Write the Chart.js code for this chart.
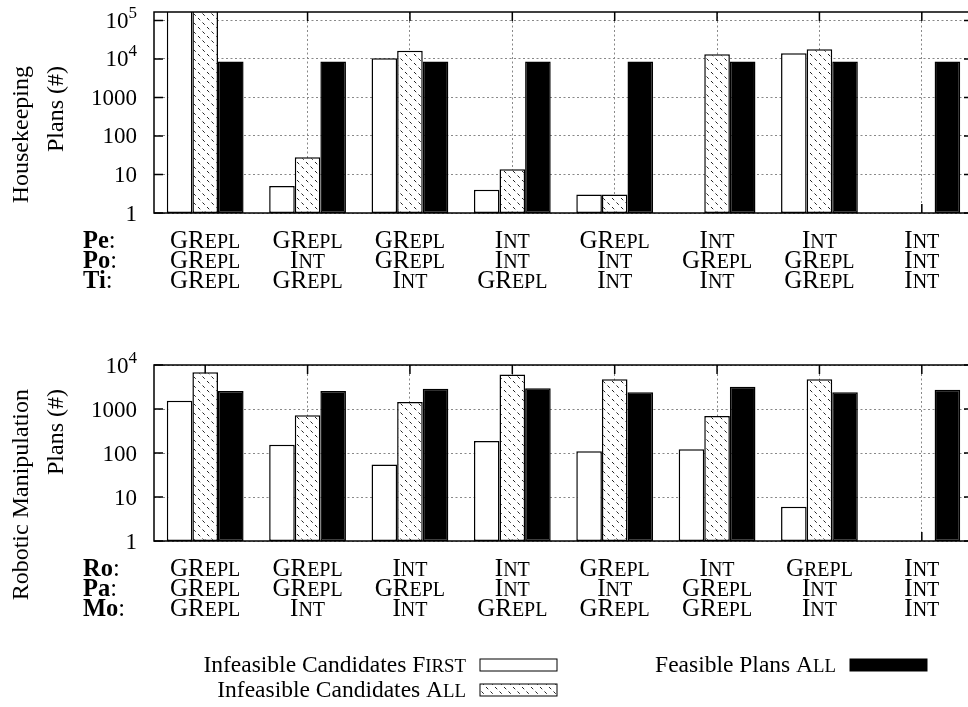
<!DOCTYPE html>
<html>
<head>
<meta charset="utf-8">
<script src="https://cdn.jsdelivr.net/npm/chart.js@4"></script>
<style>
  html, body { margin: 0; padding: 0; background: #fff; overflow: hidden; width: 968px; height: 707px; }
  canvas { position: absolute; left: 0; }
  #house { top: 0; }
  #robot { top: 300px; }
</style>
</head>
<body>
<canvas id="house" width="990" height="300"></canvas>
<canvas id="robot" width="990" height="407"></canvas>
<script>
// groups (one per configuration)
const groupIds = ['1', '2', '3', '4', '5', '6', '7', '8'];

// Housekeeping configuration rows
const housePe = ['GRepl', 'GRepl', 'GRepl', 'Int', 'GRepl', 'Int', 'Int', 'Int'];
const housePo = ['GRepl', 'Int', 'GRepl', 'Int', 'Int', 'GRepl', 'GRepl', 'Int'];
const houseTi = ['GRepl', 'GRepl', 'Int', 'GRepl', 'Int', 'Int', 'GRepl', 'Int'];

// Robotic manipulation configuration rows
const robotRo = ['GRepl', 'GRepl', 'Int', 'Int', 'GRepl', 'Int', 'Grepl', 'Int'];
const robotPa = ['GRepl', 'GRepl', 'GRepl', 'Int', 'Int', 'GRepl', 'Int', 'Int'];
const robotMo = ['GRepl', 'Int', 'Int', 'GRepl', 'GRepl', 'GRepl', 'Int', 'Int'];

// series values (null = no bar)
const houseFirst = [200000, 5, 10400, 4, 3, null, 14000, null];
const houseAll = [200000, 28, 16400, 13.6, 3, 13200, 17900, null];
const houseFeasible = [8500, 8500, 8500, 8500, 8500, 8500, 8500, 8500];

const robotFirst = [1550, 155, 55, 188, 109, 121, 6, null];
const robotAll = [6800, 718, 1440, 6100, 4730, 690, 4730, null];
const robotFeasible = [2570, 2570, 2900, 2950, 2400, 3210, 2400, 2750];

const seriesNames = ['Infeasible Candidates First', 'Infeasible Candidates All', 'Feasible Plans All'];

// y ticks
const houseTicks = [1, 10, 100, 1000, 10000, 100000];
const robotTicks = [1, 10, 100, 1000, 10000];

const FONT = '"Liberation Serif", "Times New Roman", serif';

// hatch pattern for the middle series
function makeHatch() {
    const s = 9;
    const c = document.createElement('canvas');
    c.width = s; c.height = s;
    const g = c.getContext('2d');
    g.fillStyle = '#fff';
    g.fillRect(0, 0, s, s);
    g.strokeStyle = '#222';
    g.lineWidth = 1;
    g.setLineDash([3.18, 3.18]);
    g.beginPath();
    g.moveTo(0, 0);
    g.lineTo(s, s);
    g.stroke();
    return g.createPattern(c, 'repeat');
}
const hatch = makeHatch();

// split text into runs; lowercase letters in small-caps parts become small capitals
function toRuns(parts) {
    const out = [];
    parts.forEach(p => {
        if (!p.sc) { out.push({ t: p.text, small: false, bold: p.bold }); return; }
        for (const ch of p.text) {
            const small = ch !== ch.toUpperCase();
            const last = out[out.length - 1];
            const t = small ? ch.toUpperCase() : ch;
            if (last && last.sc && last.small === small) last.t += t;
            else out.push({ t: t, small: small, sc: true, bold: p.bold });
        }
    });
    return out;
}

function drawRich(ctx, parts, x, y, align, size) {
    const runs = toRuns(parts);
    const fontOf = r => (r.bold ? 'bold ' : '') + (r.small ? size * 0.8 : size) + 'px ' + FONT;
    let w = 0;
    runs.forEach(r => { ctx.font = fontOf(r); r.w = ctx.measureText(r.t).width; w += r.w; });
    let cx = align === 'center' ? x - w / 2 : align === 'right' ? x - w : x;
    ctx.textAlign = 'left';
    ctx.textBaseline = 'alphabetic';
    runs.forEach(r => { ctx.font = fontOf(r); ctx.fillText(r.t, cx, y); cx += r.w; });
    return w;
}

function scParts(label) {
    const i = label.lastIndexOf(' ');
    return [{ text: label.slice(0, i + 1) }, { text: label.slice(i + 1), sc: true }];
}

const gnuFrame = {
    id: 'gnuFrame',
    beforeDatasetsDraw(chart) {
        const { ctx, chartArea: a, scales } = chart;
        ctx.save();
        ctx.strokeStyle = '#000';
        ctx.lineWidth = 1.5;
        ctx.beginPath();
        scales.y.ticks.forEach(t => {
            const y = scales.y.getPixelForValue(t.value);
            ctx.moveTo(a.left, y); ctx.lineTo(a.left + 9, y);
            ctx.moveTo(a.right, y); ctx.lineTo(a.right - 9, y);
        });
        groupIds.forEach((g, i) => {
            const x = scales.x.getPixelForValue(i);
            ctx.moveTo(x, a.top); ctx.lineTo(x, a.top + 9);
            ctx.moveTo(x, a.bottom); ctx.lineTo(x, a.bottom - 9);
        });
        ctx.stroke();
        ctx.restore();
    },
    afterDatasetsDraw(chart) {
        const { ctx, chartArea: a } = chart;
        ctx.save();
        ctx.strokeStyle = '#000';
        ctx.lineWidth = 1.5;
        ctx.strokeRect(a.left, a.top, a.right - a.left, a.bottom - a.top);
        ctx.restore();
    },
    afterDraw(chart, args, o) {
        const { ctx, chartArea: a, scales } = chart;
        ctx.save();
        ctx.fillStyle = '#000';

        // y tick labels, powers of ten above 1000 as superscripts
        scales.y.ticks.forEach(t => {
            const y = scales.y.getPixelForValue(t.value) + 7.5;
            const e = Math.round(Math.log10(t.value));
            ctx.textBaseline = 'alphabetic';
            ctx.textAlign = 'right';
            if (e >= 4) {
                ctx.font = '17px ' + FONT;
                const ew = ctx.measureText(String(e)).width;
                ctx.fillText(String(e), 137, y - 10);
                ctx.font = '23px ' + FONT;
                ctx.fillText('10', 137 - ew, y);
            } else {
                ctx.font = '23px ' + FONT;
                ctx.fillText(String(t.value), 137, y);
            }
        });

        // rotated y title, lines end at the same height
        ctx.font = '24px ' + FONT;
        o.title.forEach((line, i) => {
            ctx.save();
            ctx.translate(o.titleX[i], o.titleTop);
            ctx.rotate(-Math.PI / 2);
            ctx.textAlign = 'right';
            ctx.textBaseline = 'middle';
            ctx.fillText(line, 0, 0);
            ctx.restore();
        });

        // configuration rows under each group
        o.rows.forEach((row, r) => {
            const y = a.bottom + 35 + r * 20;
            drawRich(ctx, [{ text: row.name, bold: true }, { text: ':' }], 83, y, 'left', 24.5);
            row.values.forEach((v, i) => {
                drawRich(ctx, [{ text: v, sc: true }], scales.x.getPixelForValue(i), y, 'center', 25);
            });
        });

        // legend
        if (o.legend) {
            o.legend.forEach(item => {
                const ds = chart.data.datasets[item.index];
                drawRich(ctx, scParts(ds.label), item.textRight, item.y, 'right', 23.5);
                const bx = item.textRight + 14, by = item.y - 13, bw = 77, bh = 12;
                ctx.fillStyle = ds.backgroundColor;
                ctx.fillRect(bx, by, bw, bh);
                ctx.strokeStyle = '#000';
                ctx.lineWidth = 1;
                ctx.strokeRect(bx, by, bw, bh);
                ctx.fillStyle = '#000';
            });
        }
        ctx.restore();
    }
};

function makeChart(id, cfg) {
    const ctx = document.getElementById(id).getContext('2d');
    const ds = (label, data, fill) => ({
        label: label,
        data: data,
        backgroundColor: fill,
        borderColor: '#000',
        borderWidth: 1.5,
        borderSkipped: false,
        categoryPercentage: 0.75,
        barPercentage: 1.0
    });
    return new Chart(ctx, {
        type: 'bar',
        data: {
            labels: groupIds,
            datasets: [
                ds(seriesNames[0], cfg.first, '#fff'),
                ds(seriesNames[1], cfg.all, hatch),
                ds(seriesNames[2], cfg.feasible, '#000')
            ]
        },
        plugins: [gnuFrame],
        options: {
            responsive: false,
            animation: false,
            layout: { padding: { top: cfg.padTop, right: 17, left: 0, bottom: 0 } },
            plugins: {
                legend: { display: false },
                tooltip: { enabled: false },
                gnuFrame: {
                    rows: cfg.rows,
                    title: cfg.title,
                    titleX: [22, 57],
                    titleTop: cfg.titleTop,
                    legend: cfg.legend
                }
            },
            scales: {
                x: {
                    type: 'category',
                    offset: true,
                    ticks: { display: false },
                    grid: { offset: false, color: '#888', lineWidth: 1, drawTicks: false },
                    border: { display: false, dash: [2, 2.5] },
                    afterFit: s => { s.height = cfg.xHeight; }
                },
                y: {
                    type: 'logarithmic',
                    min: 1,
                    max: cfg.yMax,
                    afterBuildTicks: s => { s.ticks = cfg.ticks.map(v => ({ value: v })); },
                    ticks: { display: false },
                    grid: { color: '#888', lineWidth: 1, drawTicks: false },
                    border: { display: false, dash: [2, 2.5] },
                    afterFit: s => { s.width = 154; }
                }
            }
        }
    });
}

makeChart('house', {
    first: houseFirst, all: houseAll, feasible: houseFeasible,
    ticks: houseTicks, yMax: 165000,
    rows: [{ name: 'Pe', values: housePe }, { name: 'Po', values: housePo }, { name: 'Ti', values: houseTi }],
    title: ['Housekeeping', 'Plans (#)'], titleTop: 66,
    padTop: 12, xHeight: 87
});

makeChart('robot', {
    first: robotFirst, all: robotAll, feasible: robotFeasible,
    ticks: robotTicks, yMax: 10000,
    rows: [{ name: 'Ro', values: robotRo }, { name: 'Pa', values: robotPa }, { name: 'Mo', values: robotMo }],
    title: ['Robotic Manipulation', 'Plans (#)'], titleTop: 89,
    padTop: 65, xHeight: 166,
    legend: [
        { index: 0, textRight: 466, y: 372 },
        { index: 1, textRight: 466, y: 397 },
        { index: 2, textRight: 836, y: 372 }
    ]
});
</script>
</body>
</html>
